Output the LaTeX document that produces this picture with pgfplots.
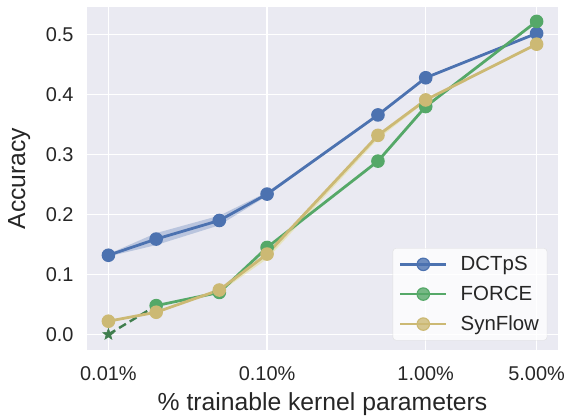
\documentclass[border=0pt]{standalone}
\usepackage{fontspec}
\setmainfont{Liberation Sans}
\usepackage{pgfplots}
\pgfplotsset{compat=1.18}
\usetikzlibrary{calc}
\definecolor{sbblue}{HTML}{4C72B0}
\definecolor{sbgreen}{HTML}{55A868}
\definecolor{sbyellow}{HTML}{CCB974}
\definecolor{sbbg}{HTML}{EAEAF2}
\definecolor{sbtext}{HTML}{262626}
% filled five-pointed star
\pgfdeclareplotmark{fstar}{%
  \pgfpathmoveto{\pgfpointpolar{90}{\pgfplotmarksize}}%
  \pgfpathlineto{\pgfpointpolar{126}{0.42\pgfplotmarksize}}%
  \pgfpathlineto{\pgfpointpolar{162}{\pgfplotmarksize}}%
  \pgfpathlineto{\pgfpointpolar{198}{0.42\pgfplotmarksize}}%
  \pgfpathlineto{\pgfpointpolar{234}{\pgfplotmarksize}}%
  \pgfpathlineto{\pgfpointpolar{270}{0.42\pgfplotmarksize}}%
  \pgfpathlineto{\pgfpointpolar{306}{\pgfplotmarksize}}%
  \pgfpathlineto{\pgfpointpolar{342}{0.42\pgfplotmarksize}}%
  \pgfpathlineto{\pgfpointpolar{18}{\pgfplotmarksize}}%
  \pgfpathlineto{\pgfpointpolar{54}{0.42\pgfplotmarksize}}%
  \pgfpathclose
  \pgfusepathqfillstroke}
\begin{document}
\begin{tikzpicture}
\begin{axis}[
    xmode=log,
    scale only axis,
    width=471bp, height=343bp,
    xmin=0.00733, xmax=6.82,
    ymin=-0.026, ymax=0.546,
    axis background/.style={fill=sbbg},
    axis line style={draw=none},
    tick style={draw=none},
    grid=major,
    major grid style={white, line width=1.3pt},
    xtick={0.01,0.1,1,5},
    xticklabels={0.01\%,0.10\%,1.00\%,5.00\%},
    ytick={0,0.1,0.2,0.3,0.4,0.5},
    yticklabel style={/pgf/number format/fixed, /pgf/number format/precision=1,
        /pgf/number format/fixed zerofill, anchor=east, xshift=-10bp},
    xticklabel style={anchor=base, yshift=-30bp},
    /pgf/number format/assume math mode=true,
    ticklabel style={font=\fontsize{20}{24}\selectfont, text=sbtext},
    label style={font=\fontsize{24.8}{28}\selectfont, text=sbtext},
    xlabel={\% trainable kernel parameters},
    xlabel style={at={(axis description cs:0.5,0)}, anchor=base, yshift=-60bp},
    ylabel={Accuracy},
    ylabel style={at={(axis description cs:-0.1316,0.5)}, anchor=base},
    legend style={at={(0.977,0.028)}, anchor=south east,
        fill=white, fill opacity=0.8, text opacity=1, draw=black!12,
        rounded corners=3pt, font=\fontsize{20.5}{24}\selectfont, text=sbtext,
        row sep=10bp, inner sep=6pt,
        /tikz/every odd column/.append style={column sep=11bp}},
    legend cell align=left,
    legend image code/.code={
        \draw[mark repeat=2,mark phase=2] plot coordinates {(0bp,0bp) (23bp,0bp) (46bp,0bp)};},
]
% DCTpS band
\addplot[fill=sbblue, fill opacity=0.3, draw=none, forget plot] coordinates {
  (0.01,0.134) (0.02,0.169) (0.05,0.198) (0.1,0.237) (0.5,0.368) (1,0.430) (5,0.504)
  (5,0.500) (1,0.426) (0.5,0.364) (0.1,0.231) (0.05,0.182) (0.02,0.149) (0.01,0.130)
} -- cycle;
% SynFlow band
\addplot[fill=sbyellow!60!yellow, fill opacity=0.3, draw=none, forget plot] coordinates {
  (0.05,0.074) (0.1,0.134) (0.5,0.332) (1,0.394)
  (1,0.388) (0.5,0.326) (0.1,0.126) (0.05,0.070)
} -- cycle;

\addplot[sbblue, line width=2.8pt, mark=*, mark size=6.2bp, mark options={solid, line width=1.2pt}] coordinates {
  (0.01,0.132) (0.02,0.159) (0.05,0.190) (0.1,0.234) (0.5,0.366) (1,0.428) (5,0.502)
};
\addlegendentry{DCTpS}
\addplot[sbgreen, line width=2.8pt, mark=*, mark size=6.2bp, mark options={solid, line width=1.2pt}] coordinates {
  (0.02,0.048) (0.05,0.070) (0.1,0.145) (0.5,0.289) (1,0.380) (5,0.522)
};
\addlegendentry{FORCE}
\addplot[sbgreen!75!black, line width=2.4pt, dash pattern=on 8pt off 4.5pt, forget plot,
    mark=fstar, mark size=6bp, mark options={solid, line width=0.5pt, fill=sbgreen!75!black},
    mark indices={1}] coordinates {
  (0.01,0.0) (0.02,0.048)
};
\addplot[sbyellow, line width=2.8pt, mark=*, mark size=6.2bp, mark options={solid, line width=1.2pt}] coordinates {
  (0.01,0.022) (0.02,0.037) (0.05,0.074) (0.1,0.134) (0.5,0.332) (1,0.391) (5,0.484)
};
\addlegendentry{SynFlow}
\end{axis}
\pgfresetboundingbox
\path[use as bounding box] ($(current axis.south west)+(-87bp,-67bp)$) rectangle ($(current axis.north east)+(8bp,7bp)$);
\end{tikzpicture}
\end{document}
